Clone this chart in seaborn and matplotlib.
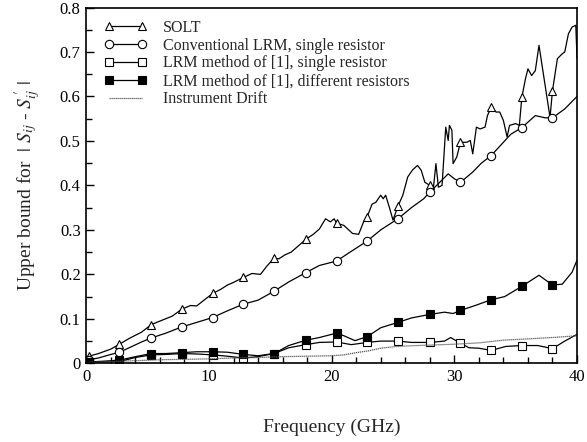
import matplotlib
matplotlib.use("Agg")
import matplotlib.pyplot as plt
import pandas as pd
import seaborn as sns
from matplotlib.ticker import FuncFormatter, MultipleLocator

# frequencies (GHz) where the symbols sit on each curve
MARKER_FREQ = [0.2, 2.7, 5.3, 7.8, 10.3, 12.8, 15.3, 17.9, 20.4, 22.9,
               25.4, 28.0, 30.5, 33.0, 35.5, 38.0]

SOLT_FREQ = [0.0, 0.2, 1.0, 2.0, 2.7, 3.5, 4.5, 5.3, 6.0, 7.0, 7.8, 8.5, 9.0, 9.5,
             10.3, 11.0, 11.5, 12.0, 12.8, 13.5, 14.2, 14.7, 15.3, 15.7, 16.2,
             16.7, 17.2, 17.9, 18.5, 19.0, 19.5, 19.9, 20.2, 20.4, 21.0, 21.7,
             22.2, 22.6, 22.9, 23.3, 23.6, 24.0, 24.2, 24.4, 24.7, 25.0, 25.4,
             25.8, 26.2, 26.6, 27.0, 27.3, 27.6, 28.0, 28.3, 28.5, 28.7, 29.0,
             29.3, 29.5, 29.6, 29.8, 29.9, 30.2, 30.5, 31.0, 31.3, 31.5, 31.8,
             32.1, 32.5, 32.7, 33.0, 33.4, 33.7, 34.0, 34.3, 34.5, 35.0, 35.3,
             35.5, 35.8, 36.0, 36.3, 36.6, 36.9, 37.3, 37.8, 38.0, 38.4, 38.8,
             39.0, 39.3, 39.6, 39.9, 40.0]
SOLT_VAL = [0.008, 0.016, 0.022, 0.032, 0.043, 0.056, 0.070, 0.087, 0.095, 0.106,
            0.122, 0.130, 0.129, 0.140, 0.157, 0.167, 0.176, 0.182, 0.193, 0.202,
            0.200, 0.218, 0.236, 0.235, 0.244, 0.250, 0.262, 0.279, 0.290, 0.302,
            0.325, 0.318, 0.325, 0.315, 0.310, 0.292, 0.290, 0.318, 0.330, 0.358,
            0.362, 0.378, 0.370, 0.378, 0.351, 0.322, 0.353, 0.378, 0.419, 0.435,
            0.445, 0.434, 0.407, 0.400, 0.396, 0.449, 0.396, 0.400, 0.531, 0.501,
            0.535, 0.524, 0.449, 0.464, 0.497, 0.497, 0.501, 0.471, 0.531, 0.527,
            0.531, 0.557, 0.576, 0.565, 0.565, 0.546, 0.509, 0.535, 0.539, 0.535,
            0.598, 0.640, 0.662, 0.647, 0.658, 0.715, 0.643, 0.553, 0.613, 0.685,
            0.696, 0.700, 0.741, 0.756, 0.760, 0.685]

CONV_FREQ = [0.0, 0.2, 1.0, 2.0, 2.7, 3.5, 4.5, 5.3, 6.5, 7.8, 9.0, 10.3, 11.5,
             12.8, 14.0, 15.3, 16.5, 17.9, 19.0, 20.4, 21.5, 22.9, 24.0, 25.4,
             26.5, 27.5, 28.0, 28.7, 29.5, 30.0, 30.5, 31.5, 32.2, 33.0, 34.0,
             34.6, 35.5, 36.6, 37.4, 38.0, 39.0, 40.0]
CONV_VAL = [0.003, 0.008, 0.012, 0.020, 0.025, 0.035, 0.048, 0.057, 0.068, 0.082,
            0.092, 0.103, 0.118, 0.133, 0.142, 0.162, 0.183, 0.204, 0.220, 0.230,
            0.250, 0.275, 0.300, 0.325, 0.350, 0.370, 0.385, 0.404, 0.426, 0.415,
            0.407, 0.430, 0.450, 0.467, 0.497, 0.515, 0.530, 0.557, 0.552, 0.552,
            0.572, 0.600]

SINGLE_FREQ = [0.0, 0.2, 2.7, 4.0, 5.3, 6.5, 7.8, 9.0, 10.3, 11.5, 12.8, 14.0,
               15.3, 16.5, 17.9, 19.0, 20.4, 21.6, 22.9, 24.0, 25.4, 26.5, 28.0,
               29.2, 29.7, 30.5, 31.2, 32.0, 33.0, 34.2, 35.5, 36.8, 38.0, 39.0,
               40.0]
SINGLE_VAL = [0.002, 0.003, 0.004, 0.013, 0.019, 0.020, 0.022, 0.021, 0.019, 0.016,
              0.012, 0.015, 0.022, 0.035, 0.042, 0.047, 0.048, 0.042, 0.047, 0.050,
              0.050, 0.047, 0.047, 0.050, 0.058, 0.045, 0.035, 0.034, 0.029, 0.038,
              0.040, 0.040, 0.033, 0.050, 0.065]

DIFF_FREQ = [0.0, 0.2, 1.5, 2.7, 4.0, 5.3, 6.5, 7.8, 9.0, 10.3, 11.5, 12.8, 14.0,
             15.3, 16.5, 17.9, 19.0, 20.4, 21.0, 21.9, 22.9, 24.0, 25.4, 26.5,
             28.0, 29.2, 29.9, 30.5, 31.7, 33.0, 34.1, 35.5, 36.9, 38.0, 38.8,
             39.6, 40.0]
DIFF_VAL = [0.002, 0.003, 0.005, 0.007, 0.015, 0.022, 0.022, 0.024, 0.026, 0.026,
            0.025, 0.020, 0.017, 0.022, 0.040, 0.052, 0.058, 0.068, 0.062, 0.051,
            0.060, 0.080, 0.092, 0.102, 0.110, 0.115, 0.112, 0.119, 0.130, 0.143,
            0.150, 0.173, 0.198, 0.176, 0.178, 0.205, 0.232]

DRIFT_FREQ = [0, 2, 4, 6, 8, 10, 12, 14, 16, 18, 20, 21, 22, 23, 24, 25, 26, 28,
              30, 32, 34, 36, 38, 40]
DRIFT_VAL = [0.002, 0.004, 0.006, 0.008, 0.009, 0.010, 0.012, 0.013, 0.015, 0.016,
             0.017, 0.019, 0.024, 0.028, 0.034, 0.037, 0.039, 0.041, 0.043, 0.046,
             0.052, 0.055, 0.058, 0.062]

LABELS = ["SOLT", "Conventional LRM, single resistor",
          "LRM method of [1], single resistor",
          "LRM method of [1], different resistors", "Instrument Drift"]


def marker_idx(freq):
    return [i for i, f in enumerate(freq) if f in MARKER_FREQ]


def y_fmt(v, pos):
    return "0" if abs(v) < 1e-9 else f"{v:.1f}"


sns.set_theme(style="ticks")
plt.rcParams["font.family"] = ["Liberation Serif", "DejaVu Serif"]
plt.rcParams["mathtext.fontset"] = "stix"

fig, ax = plt.subplots(figsize=(5.87, 4.42), dpi=100)
fig.subplots_adjust(left=0.147, right=0.983, top=0.983, bottom=0.178)

series = [
    (SOLT_FREQ, SOLT_VAL, "^", "white"),
    (CONV_FREQ, CONV_VAL, "o", "white"),
    (SINGLE_FREQ, SINGLE_VAL, "s", "white"),
    (DIFF_FREQ, DIFF_VAL, "s", "black"),
]
for (freq, val, mk, face), label in zip(series, LABELS):
    df = pd.DataFrame({"f": freq, "v": val})
    sns.lineplot(data=df, x="f", y="v", ax=ax, color="black", lw=0.9,
                 marker=mk, markersize=6, markerfacecolor=face,
                 markeredgecolor="black", markeredgewidth=0.8,
                 markevery=marker_idx(freq), label=label)

drift = pd.DataFrame({"f": DRIFT_FREQ, "v": DRIFT_VAL})
sns.lineplot(data=drift, x="f", y="v", ax=ax, color="#555555", lw=0.9,
             linestyle=(0, (1, 0.6)), label=LABELS[4])

ax.set_xlim(0, 40)
ax.set_ylim(0, 0.8)
ax.xaxis.set_major_locator(MultipleLocator(10))
ax.xaxis.set_minor_locator(MultipleLocator(2))
ax.yaxis.set_major_locator(MultipleLocator(0.1))
ax.yaxis.set_minor_locator(MultipleLocator(0.05))
ax.yaxis.set_major_formatter(FuncFormatter(y_fmt))
ax.tick_params(which="both", direction="in", top=False, right=False,
               labelsize=12, width=1, colors="black")
ax.tick_params(which="major", length=6, pad=4)
ax.tick_params(which="minor", length=4)
for sp in ax.spines.values():
    sp.set_linewidth(1.2)
    sp.set_color("black")

ax.set_xlabel("Frequency (GHz)", fontsize=14, labelpad=24)
ax.set_ylabel(r"Upper bound for  $|$ $S_{ij}$ - $S_{ij}^{\,\prime}$ $|$",
              fontsize=14, labelpad=12)

ax.legend(loc="upper left", frameon=False, numpoints=2, handlelength=2.7,
          fontsize=11.5, labelspacing=0.12, borderpad=0, borderaxespad=0,
          handletextpad=1.0, bbox_to_anchor=(0.036, 0.966))

fig.savefig("out.png", dpi=100)
